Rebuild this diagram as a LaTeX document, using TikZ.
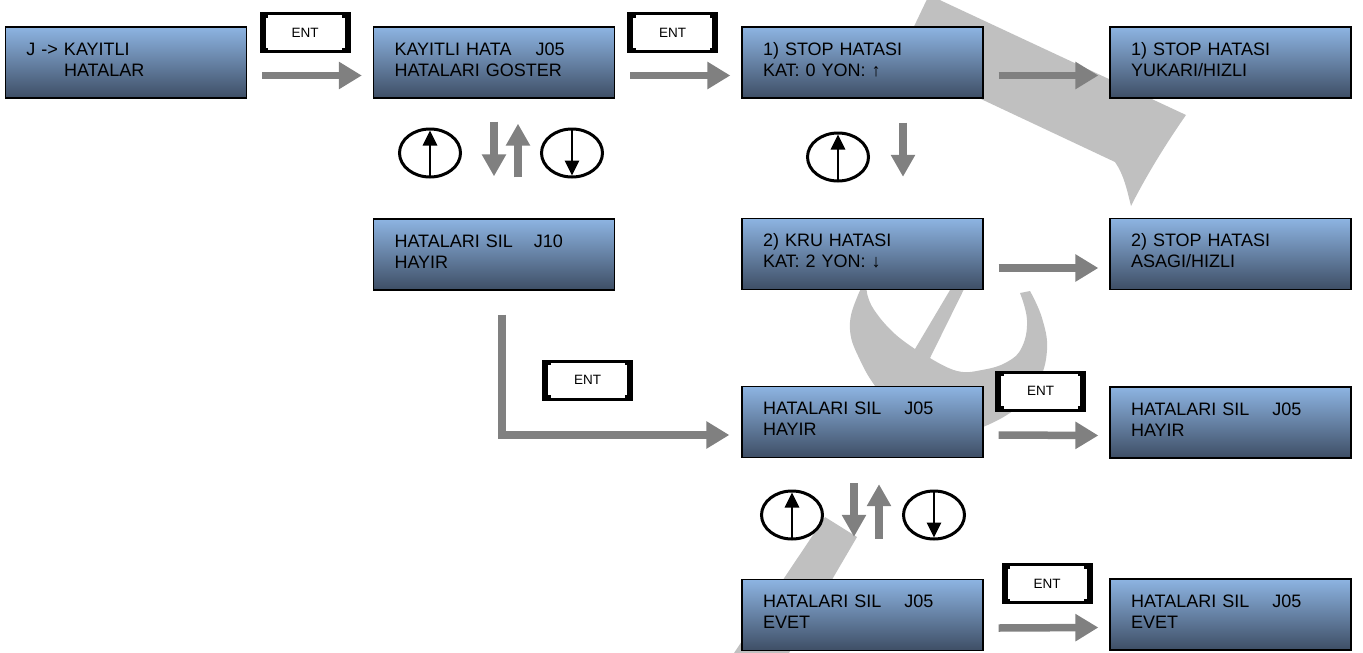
\documentclass[tikz,border=0pt]{standalone}
\usepackage{fontspec}
\setmainfont{Liberation Sans}
\usetikzlibrary{arrows.meta,shapes.geometric}
\definecolor{lcdtop}{RGB}{141,180,226}
\definecolor{lcdbot}{RGB}{62,78,101}
\definecolor{agray}{RGB}{128,128,128}
\definecolor{wmgray}{RGB}{192,192,192}
\newcommand{\lcdfont}{\fontsize{18pt}{21pt}\selectfont}
\newcommand{\lcdtxt}[2]{\rule{0pt}{14pt}#1\\#2\rule[-8pt]{0pt}{8pt}}
\begin{document}
\begin{tikzpicture}[x=1pt,y=-1pt,
  lcd/.style={draw=black, line width=1.3pt, top color=lcdtop, bottom color=lcdbot,
    text width=199pt, inner xsep=21pt, inner ysep=0pt, minimum height=71pt,
    align=left, font=\lcdfont},
  entbtn/.style={fill=black, minimum width=91pt, minimum height=41pt, inner sep=0pt,
    font=\fontsize{13.5pt}{15pt}\selectfont,
    path picture={
      \fill[white] ([shift={(6pt,-3pt)}]path picture bounding box.north west) rectangle ([shift={(-6pt,3pt)}]path picture bounding box.south east);
      \fill[black] ([shift={(6pt,-3pt)}]path picture bounding box.north west) rectangle ++(2.5pt,-2.5pt);
      \fill[black] ([shift={(-6pt,-3pt)}]path picture bounding box.north east) rectangle ++(-2.5pt,-2.5pt);
      \fill[black] ([shift={(6pt,3pt)}]path picture bounding box.south west) rectangle ++(2.5pt,2.5pt);
      \fill[black] ([shift={(-6pt,3pt)}]path picture bounding box.south east) rectangle ++(-2.5pt,2.5pt);
    }},
  flow/.style={draw=agray, line width=7.5pt, -{Triangle[length=23pt,width=26pt]}},
  nav/.style={draw=agray, line width=7.5pt, -{Triangle[length=22pt,width=23pt]}},
  keyup/.style={ellipse, draw=black, line width=3pt, fill=white, minimum width=61pt,
    minimum height=48pt, inner sep=0pt,
    path picture={\draw[line width=2.8pt,-{Triangle[length=15pt,width=14pt]}]
      (path picture bounding box.south) -- ([yshift=-1.5pt]path picture bounding box.north);}},
  keydown/.style={ellipse, draw=black, line width=3pt, fill=white, minimum width=61pt,
    minimum height=48pt, inner sep=0pt,
    path picture={\draw[line width=2.8pt,-{Triangle[length=15pt,width=14pt]}]
      (path picture bounding box.north) -- ([yshift=1.5pt]path picture bounding box.south);}},
  wm/.style={fill=wmgray}
]
\useasboundingbox (0,0) rectangle (1363,653);

% watermark
\fill[wm] (929,-5) -- (1186,115) .. controls (1165,145) and (1145,178) .. (1131,206)
  .. controls (1127,190) and (1124,175) .. (1115,162) -- (898,60) -- cycle;
\fill[wm, even odd rule]
  plot[smooth, tension=0.7] coordinates {(1030,291) (1042,318) (1047,350) (1038,383) (1018,407) (983,427) (945,437) (905,420) (878,390) (860,360) (850,330) (856,300) (872,275) (905,258) (945,256) (971,275)}
  -- plot[smooth, tension=0.7] coordinates {(930,358) (957,371) (982,370) (1007,362) (1022,347) (1027,320) (1020,293)} -- cycle
  plot[smooth, tension=0.7] coordinates {(866,280) (868,297) (877,314) (895,334) (915,349)}
  -- (953,285) -- (935,270) -- (900,268) -- cycle;
\fill[wm] (825,517) -- (857,537) -- (789,653) -- (734,653) -- cycle;

% LCD boxes
\node[lcd] (A) at (126,62.5) {\lcdtxt{J -> KAYITLI}{\phantom{J -> }HATALAR}};
\node[lcd] (B) at (494,62.5) {\lcdtxt{KAYITLI HATA\hspace{18pt} J05}{HATALARI GOSTER}};
\node[lcd] (C) at (862.5,62.5) {\lcdtxt{1) STOP HATASI}{KAT: 0 YON: ↑}};
\node[lcd] (D) at (1230.5,62.5) {\lcdtxt{1) STOP HATASI}{YUKARI/HIZLI}};
\node[lcd] (E) at (494,254.5) {\lcdtxt{HATALARI SIL\hspace{15pt} J10}{HAYIR}};
\node[lcd] (F) at (862.5,254) {\lcdtxt{2) KRU HATASI}{KAT: 2 YON: ↓}};
\node[lcd] (G) at (1230.5,254) {\lcdtxt{2) STOP HATASI}{ASAGI/HIZLI}};
\node[lcd] (H) at (862.5,422) {\lcdtxt{HATALARI SIL\hspace{17pt} J05}{HAYIR}};
\node[lcd] (I) at (1230.5,422.5) {\lcdtxt{HATALARI SIL\hspace{17pt} J05}{HAYIR}};
\node[lcd] (K) at (862.5,615) {\lcdtxt{HATALARI SIL\hspace{17pt} J05}{EVET}};
\node[lcd] (J) at (1230.5,614.5) {\lcdtxt{HATALARI SIL\hspace{17pt} J05}{EVET}};

% ENT keys
\node[entbtn] (ent1) at (305,32.5) {ENT};
\node[entbtn] (ent2) at (672.5,32.5) {ENT};
\node[entbtn] (ent3) at (587.5,380) {ENT};
\node[entbtn] (ent4) at (1040.5,391) {ENT};
\node[entbtn] (ent5) at (1047,583.5) {ENT};

% flow arrows
\draw[flow] ([shift={(15,13)}]A.east) -- ([shift={(-11,13)}]B.west);
\draw[flow] ([shift={(15,13)}]B.east) -- ([shift={(-11,13)}]C.west);
\draw[flow] ([shift={(15,13)}]C.east) -- ([shift={(-11,13)}]D.west);
\draw[flow] ([shift={(15,14)}]F.east) -- ([shift={(-11,14)}]G.west);
\draw[flow] ([shift={(15,13)}]H.east) -- ([shift={(-11,13)}]I.west);
\draw[flow] ([shift={(15,13)}]K.east) -- ([shift={(-11,13)}]J.west);
\draw[flow, line join=miter] ([shift={(8,24)}]E.south) |- ([shift={(-12,13)}]H.west);

% navigation arrows
\draw[nav] ([shift={(0,23)}]B.south) -- ([shift={(0,-42)}]E.north);
\draw[nav] ([shift={(24,-41)}]E.north) -- ([shift={(24,25)}]B.south);
\draw[nav] ([shift={(40.5,24)}]C.south) -- ([shift={(40.5,-41)}]F.north);
\draw[nav] ([shift={(-8.5,25)}]H.south) -- ([shift={(-8.5,-42)}]K.north);
\draw[nav] ([shift={(16.5,-40)}]K.north) -- ([shift={(16.5,26)}]H.south);

% keys
\node[keyup] (ku1) at (430,153) {};
\node[keydown] (kd1) at (572,153) {};
\node[keyup] (ku2) at (838,157) {};
\node[keyup] (ku3) at (792,515) {};
\node[keydown] (kd3) at (934,515) {};
\end{tikzpicture}
\end{document}
